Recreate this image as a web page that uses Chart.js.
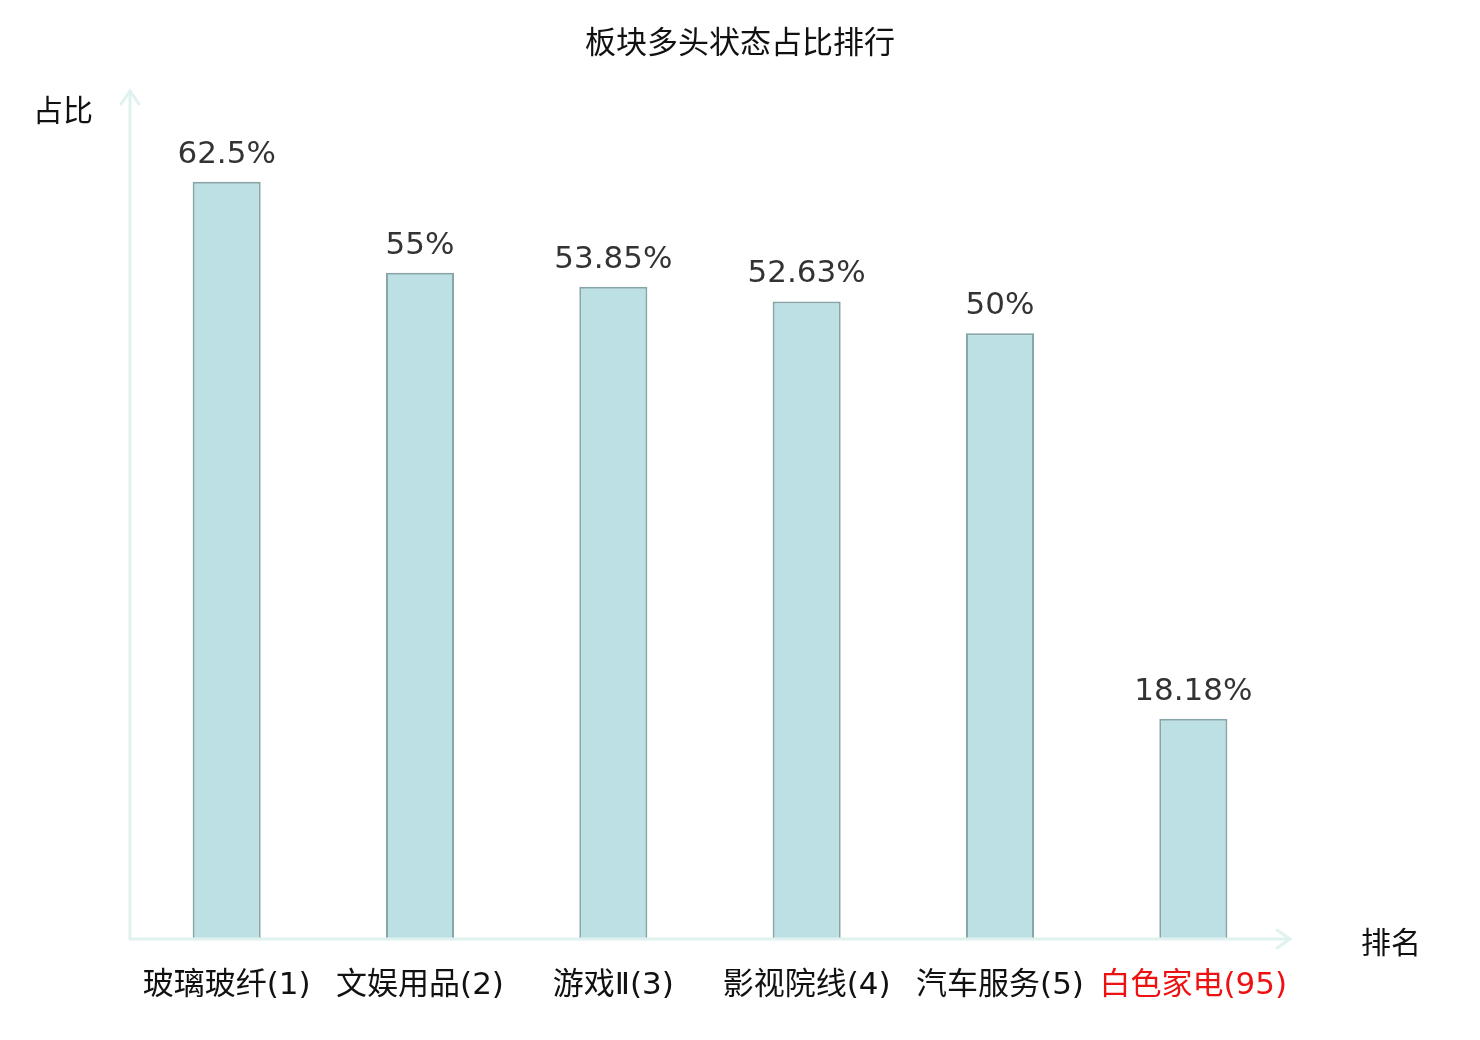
<!DOCTYPE html>
<html><head><meta charset="utf-8">
<script src="https://cdn.jsdelivr.net/npm/chart.js@4.4.1/dist/chart.umd.min.js"></script>
<style>html,body{margin:0;padding:0;background:#fff}#wrap{width:1480px;height:1040px}</style>
</head><body><div id="wrap"><canvas id="c" width="1480" height="1040"></canvas></div>
<script>
const categories = ['玻璃玻纤(1)', '文娱用品(2)', '游戏Ⅱ(3)', '影视院线(4)', '汽车服务(5)', '白色家电(95)'];
const values = [62.5, 55, 53.85, 52.63, 50, 18.18];
const valueLabels = ['62.5%', '55%', '53.85%', '52.63%', '50%', '18.18%'];
const labelColors = ['#111111', '#111111', '#111111', '#111111', '#111111', '#ee1111'];
const chartTitle = '板块多头状态占比排行';
const yTitle = '占比';
const xTitle = '排名';

const MIX = '"DejaVu Sans", "Noto Sans CJK SC", sans-serif';
const AXIS = '#dff2ef';

const deco = {
  id: 'deco',
  afterDatasetsDraw(chart) {
    const ctx = chart.ctx, a = chart.chartArea;
    ctx.save();
    ctx.strokeStyle = AXIS; ctx.lineWidth = 3; ctx.lineCap = 'round';
    ctx.beginPath();
    ctx.moveTo(a.left, a.bottom); ctx.lineTo(a.left, a.top);
    ctx.moveTo(a.left, a.bottom); ctx.lineTo(a.right, a.bottom);
    ctx.stroke();
    ctx.beginPath();
    ctx.moveTo(a.left - 9, a.top + 13); ctx.lineTo(a.left, a.top); ctx.lineTo(a.left + 9, a.top + 13);
    ctx.moveTo(a.right - 13, a.bottom - 9); ctx.lineTo(a.right, a.bottom); ctx.lineTo(a.right - 13, a.bottom + 9);
    ctx.stroke();
    const meta = chart.getDatasetMeta(0);
    ctx.fillStyle = '#333333'; ctx.font = '31px "DejaVu Sans", sans-serif';
    ctx.textAlign = 'center'; ctx.textBaseline = 'alphabetic';
    meta.data.forEach((bar, i) => {
      ctx.fillText(valueLabels[i], bar.x, bar.y - 19);
    });
    ctx.fillStyle = '#111111';
    ctx.textBaseline = 'middle';
    ctx.font = '31px ' + MIX;
    ctx.fillText(chartTitle, chart.width / 2, 45);
    ctx.font = '30px ' + MIX;
    ctx.textAlign = 'left';
    ctx.fillText(yTitle, 33, 113);
    ctx.fillText(xTitle, 1361, 945);
    ctx.restore();
  }
};

new Chart(document.getElementById('c'), {
  type: 'bar',
  data: {
    labels: categories,
    datasets: [{
      data: values,
      backgroundColor: '#bce0e3',
      borderColor: '#87a5a6',
      borderWidth: 2,
      categoryPercentage: 1,
      barPercentage: 0.352
    }]
  },
  options: {
    responsive: false,
    animation: false,
    devicePixelRatio: 1,
    layout: { padding: { left: 130, right: 190, top: 91, bottom: 0 } },
    plugins: { legend: { display: false }, tooltip: { enabled: false }, title: { display: false } },
    scales: {
      x: {
        grid: { display: false, drawTicks: false },
        border: { display: false },
        afterFit(s) { s.height = 101; },
        ticks: {
          padding: 28,
          autoSkip: false,
          maxRotation: 0,
          font: { size: 31, family: MIX },
          color: (c) => labelColors[c.index]
        }
      },
      y: {
        display: false,
        min: 0, max: 70
      }
    }
  },
  plugins: [deco]
});
</script></body></html>
